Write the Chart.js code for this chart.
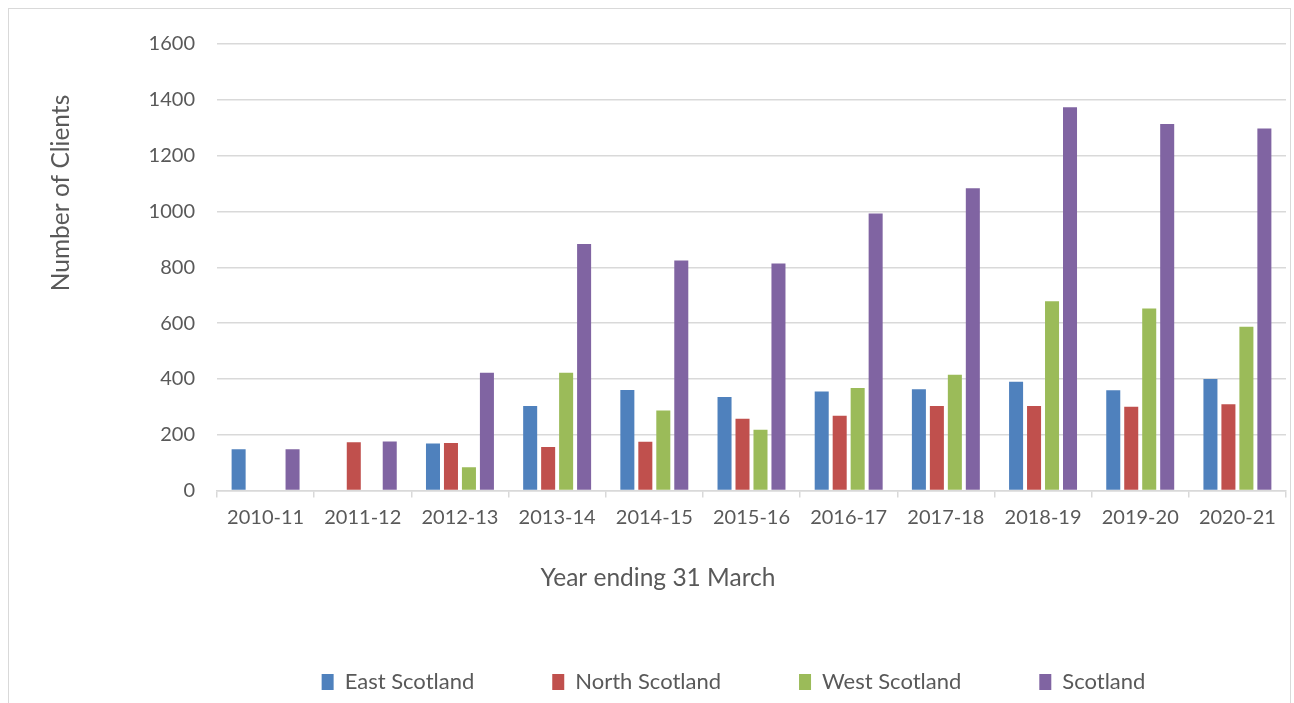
<!DOCTYPE html>
<html>
<head>
<meta charset="utf-8">
<script src="https://cdn.jsdelivr.net/npm/chart.js@4.4.1/dist/chart.umd.min.js"></script>
<style>
  html, body { margin:0; padding:0; background:#fff; }
  #wrap { position:relative; width:1294px; height:703px; overflow:hidden; }
  #frame { position:absolute; left:8px; top:8px; width:1283px; height:760px; border:1.5px solid #d9d9d9; box-sizing:border-box; }
  canvas { position:absolute; left:0; top:0; }
</style>
</head>
<body>
<div id="wrap">
  <div id="frame"></div>
  <canvas id="chart" width="1294" height="703"></canvas>
</div>
<script>
const years = ['2010-11','2011-12','2012-13','2013-14','2014-15','2015-16','2016-17','2017-18','2018-19','2019-20','2020-21'];
const eastScotland  = [148, null, 168, 303, 360, 335, 355, 363, 390, 359, 400];
const northScotland = [null, 173, 170, 156, 175, 257, 268, 303, 303, 300, 309];
const westScotland  = [null, null, 83, 422, 287, 218, 367, 415, 678, 652, 587];
const scotland      = [148, 176, 422, 883, 824, 813, 993, 1083, 1373, 1313, 1297];

const textColor = '#595959';
const gridColor = '#d9d9d9';
const fontFamily = 'Lato, "Open Sans", sans-serif';

// titres des axes, placés comme dans Excel (centrés sur le graphique)
const axisTitles = {
  id: 'axisTitles',
  afterLayout(chart) {
    // la légende Excel est décalée vers la droite
    chart.legend.left += 90.5;
    chart.legend.right += 90.5;
  },
  afterDraw(chart) {
    const ctx = chart.ctx;
    ctx.save();
    ctx.fillStyle = textColor;
    ctx.font = '24.5px ' + fontFamily;
    ctx.textAlign = 'center';
    ctx.textBaseline = 'middle';
    ctx.fillText('Year ending 31 March', 658, 578);
    ctx.translate(61, 193);
    ctx.rotate(-Math.PI / 2);
    ctx.fillText('Number of Clients', 0, 0);
    ctx.restore();
  }
};

const ctx = document.getElementById('chart').getContext('2d');
new Chart(ctx, {
  type: 'bar',
  data: {
    labels: years,
    datasets: [
      { label: 'East Scotland',  data: eastScotland,  backgroundColor: '#4f81bd' },
      { label: 'North Scotland', data: northScotland, backgroundColor: '#c0504d' },
      { label: 'West Scotland',  data: westScotland,  backgroundColor: '#9bbb59' },
      { label: 'Scotland',       data: scotland,      backgroundColor: '#8064a2' }
    ]
  },
  options: {
    responsive: false,
    animation: false,
    categoryPercentage: 0.74,
    barPercentage: 0.78,
    layout: { padding: { left: 0, right: 8, top: 44, bottom: 0 } },
    plugins: {
      tooltip: { enabled: false },
      legend: {
        position: 'bottom',
        labels: {
          color: textColor,
          font: { family: fontFamily, size: 22 },
          boxWidth: 12,
          boxHeight: 16,
          padding: 78
        }
      }
    },
    scales: {
      x: {
        grid: { offset: true, drawOnChartArea: false, drawTicks: true, tickLength: 7, color: gridColor, lineWidth: 1.5 },
        border: { color: gridColor, width: 1.5 },
        ticks: { color: textColor, font: { family: fontFamily, size: 20 }, padding: 8, maxRotation: 0 },
        afterFit(s) {
          const leg = s.chart.legend;
          s.height = s.chart.height - (leg ? leg.height : 0) - 490.5;
        }
      },
      y: {
        min: 0, max: 1600,
        ticks: { stepSize: 200, color: textColor, font: { family: fontFamily, size: 20 }, padding: 22, callback: v => String(v) },
        grid: { color: gridColor, lineWidth: 1.5, drawTicks: false },
        border: { display: false },
        afterFit(s) { s.width = 217; }
      }
    }
  },
  plugins: [axisTitles]
});
</script>
</body>
</html>
